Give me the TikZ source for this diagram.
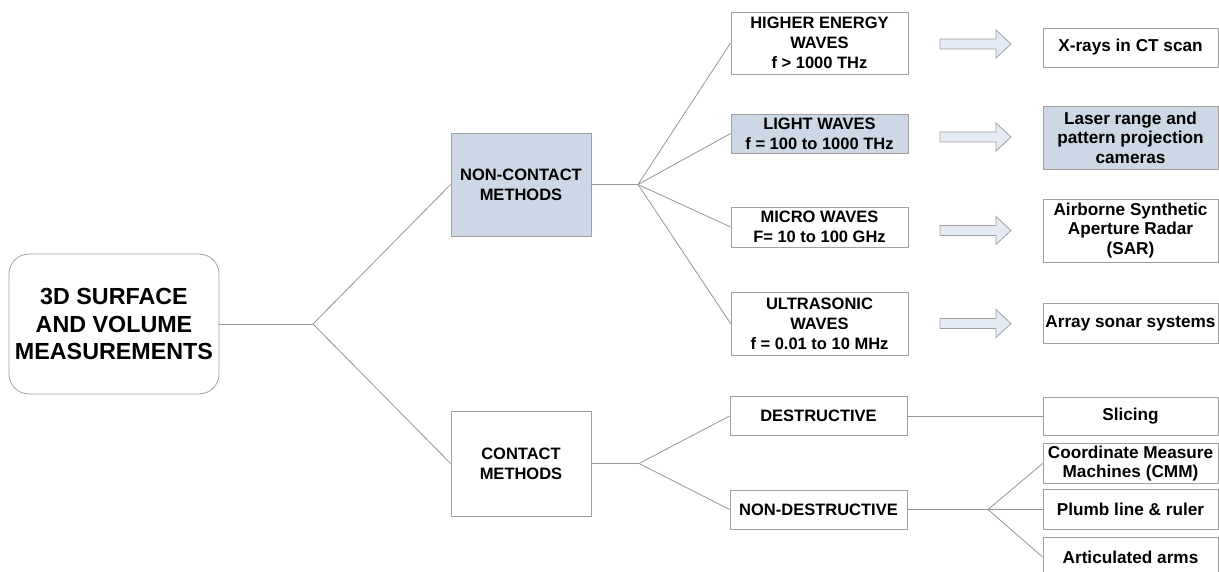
\documentclass[tikz,border=0pt]{standalone}
\usepackage{fontspec}
\setmainfont{Liberation Sans}
\begin{document}
\definecolor{boxblue}{RGB}{205,216,230}
\definecolor{arrowfill}{RGB}{228,235,245}
\definecolor{edgegray}{RGB}{160,160,160}
\definecolor{linegray}{RGB}{150,150,150}
\begin{tikzpicture}[x=1pt,y=-1pt,
  box/.style={draw=edgegray,line width=0.8pt,fill=white,inner sep=2pt,align=center,
    font=\fontsize{16.5}{20}\selectfont\bfseries},
  bluebox/.style={box,fill=boxblue},
  rootbox/.style={box,rounded corners=20pt,font=\fontsize{23.3}{27.5}\selectfont\bfseries},
  wave/.style={box,minimum width=177pt},
  leaffont/.style={font=\fontsize{17.2}{19.5}\selectfont\bfseries},
  leaf/.style={box,minimum width=175pt,leaffont},
  link/.style={draw=linegray,line width=0.8pt},
  barrow/.pic={\draw[draw=edgegray,fill=arrowfill,line width=0.8pt]
    (-35.5,-5) -- (20.5,-5) -- (20.5,-14) -- (35.5,0) -- (20.5,14) -- (20.5,5) -- (-35.5,5) -- cycle;}]
\useasboundingbox (0,0) rectangle (1219,572);
\begin{scope}
\clip (0,0) rectangle (1219,572);

% root
\node[rootbox,minimum width=210pt,minimum height=140pt] (root) at (114,324)
  {3D SURFACE\\AND VOLUME\\MEASUREMENTS};

% method level
\node[bluebox,minimum width=140pt,minimum height=103pt] (nc) at (521,184.5) {NON-CONTACT\\METHODS};
\node[box,minimum width=140pt,minimum height=105pt] (ct) at (521,463.5) {CONTACT\\METHODS};

% wave types and contact kinds
\node[wave,minimum height=62pt] (hew) at (819.5,43) {HIGHER ENERGY\\WAVES\\f > 1000 THz};
\node[wave,bluebox,minimum height=39pt] (lw) at (819.5,133.5) {LIGHT WAVES\\f = 100 to 1000 THz};
\node[wave,minimum height=40pt] (mw) at (819.5,227) {MICRO WAVES\\F= 10 to 100 GHz};
\node[wave,minimum height=63pt] (uw) at (819.5,323.5) {ULTRASONIC\\WAVES\\f = 0.01 to 10 MHz};
\node[wave,minimum height=39pt] (de) at (818.5,416) {DESTRUCTIVE};
\node[wave,minimum height=39pt] (nd) at (818.5,509.5) {NON-DESTRUCTIVE};

% applications
\node[leaf,minimum height=39pt] (xr) at (1130.5,47.5) {X-rays in CT scan};
\node[leaf,bluebox,leaffont,minimum height=63pt] (lr) at (1130.5,137.5) {Laser range and\\pattern projection\\cameras};
\node[leaf,minimum height=63pt] (sar) at (1130.5,230.5) {Airborne Synthetic\\Aperture Radar\\(SAR)};
\node[leaf,minimum height=40pt] (son) at (1130.5,323) {Array sonar systems};
\node[leaf,minimum height=38pt] (sl) at (1130.5,416) {Slicing};
\node[leaf,minimum height=39pt] (cmm) at (1130.5,463.5) {Coordinate Measure\\Machines (CMM)};
\node[leaf,minimum height=40pt] (pl) at (1130.5,509.5) {Plumb line \& ruler};
\node[leaf,minimum height=40pt] (ar) at (1130.5,557) {Articulated arms};

% branch points
\coordinate (b0) at (313,324);
\coordinate (b1) at (638,184.5);
\coordinate (b2) at (639,463.5);
\coordinate (b3) at (988,509.5);

% connectors
\draw[link] (root.east) -- (b0);
\draw[link] (b0) -- (nc.west);
\draw[link] (b0) -- (ct.west);
\draw[link] (nc.east) -- (b1);
\draw[link] (b1) -- (hew.west);
\draw[link] (b1) -- (lw.west);
\draw[link] (b1) -- (mw.west);
\draw[link] (b1) -- (uw.west);
\draw[link] (ct.east) -- (b2);
\draw[link] (b2) -- (de.west);
\draw[link] (b2) -- (nd.west);
\draw[link] (de.east) -- (sl.west);
\draw[link] (nd.east) -- (b3);
\draw[link] (b3) -- (cmm.west);
\draw[link] (b3) -- (pl.west);
\draw[link] (b3) -- (ar.west);

% block arrows between wave types and applications
\pic at (975.5,44) {barrow};
\pic at (975.5,137) {barrow};
\pic at (975.5,230.5) {barrow};
\pic at (975.5,323.5) {barrow};
\end{scope}
\end{tikzpicture}
\end{document}
